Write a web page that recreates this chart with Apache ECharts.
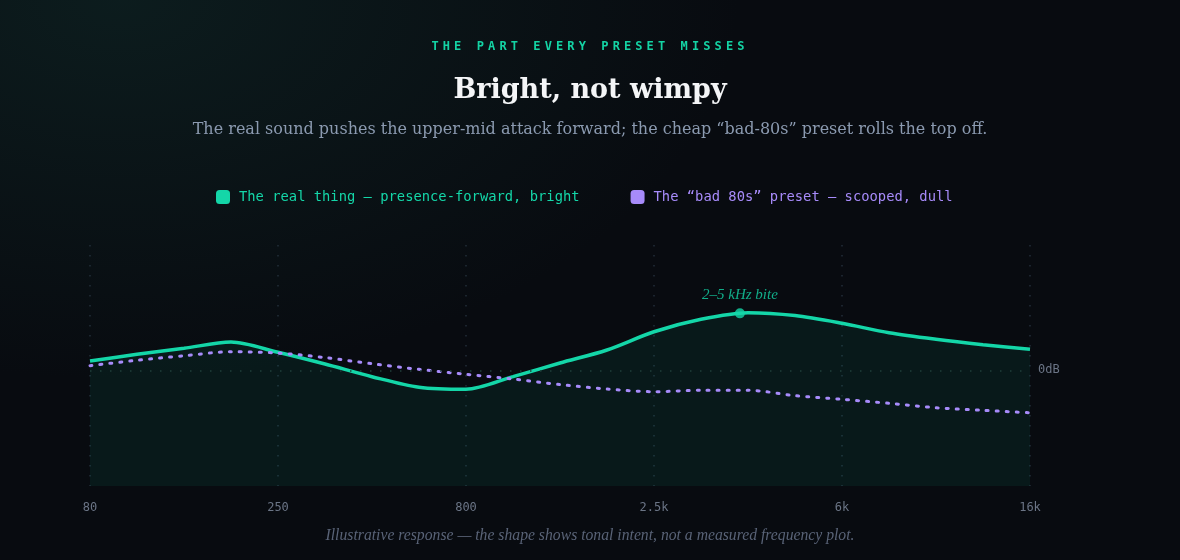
<!DOCTYPE html>
<html><head><meta charset="utf-8">
<script src="https://cdn.jsdelivr.net/npm/echarts@6/dist/echarts.min.js"></script>
<style>
html,body{margin:0;padding:0;width:1180px;height:560px;overflow:hidden;
background:#080b10;
background-image:radial-gradient(ellipse 620px 380px at 120px 0px, rgba(20,60,55,0.35), rgba(8,11,16,0) 100%);}
#eyebrow{position:absolute;left:0;top:39px;width:1180px;text-align:center;font-family:"DejaVu Sans Mono",monospace;font-size:12px;letter-spacing:4.1px;color:#14d3a4;font-weight:bold;}
#chart{position:absolute;left:0;top:0;width:1180px;height:560px;}
</style></head>
<body>
<div id="chart"></div>
<div id="eyebrow">THE PART EVERY PRESET MISSES</div>
<script>
const tickLabels = ['80','250','800','2.5k','6k','16k'];
// positions along the (log-spaced) frequency axis, in tick-index units
const positions = [0, 0.25, 0.5, 0.75, 1, 1.25, 1.5, 1.75, 2, 2.25, 2.5, 2.75, 3, 3.25, 3.5, 3.75, 4, 4.25, 4.5, 4.75, 5];
const realDb = [0.96, 1.66, 2.28, 2.94, 1.87, 0.65, -0.66, -1.75, -1.96, -0.65, 0.76, 2.11, 4.0, 5.29, 5.98, 5.68, 4.88, 3.9, 3.22, 2.66, 2.18];
const badDb  = [0.48, 1.04, 1.51, 1.93, 1.79, 1.32, 0.68, 0.10, -0.41, -0.90, -1.48, -1.94, -2.22, -2.07, -2.07, -2.63, -3.01, -3.42, -3.88, -4.15, -4.40];
const peakPos = 3.457, peakDb = 5.91, peakLabel = '2–5 kHz bite';

const GREEN = '#14d6a8', PURPLE = '#a78bfa';
const realName = 'The real thing — presence-forward, bright';
const badName = 'The “bad 80s” preset — scooped, dull';

const chart = echarts.init(document.getElementById('chart'), null, {renderer:'canvas'});
chart.setOption({
  backgroundColor: 'transparent',
  animation: false,
  title: [
    {text:'Bright, not wimpy', left:'center', top:72,
     textStyle:{fontFamily:'DejaVu Serif', fontWeight:'bold', fontSize:27, color:'#f4f5f7'}},
    {text:'The real sound pushes the upper-mid attack forward; the cheap “bad-80s” preset rolls the top off.', left:'center', top:117,
     textStyle:{fontFamily:'DejaVu Serif', fontWeight:'normal', fontSize:16, color:'#8b9ab0'}},
    {text:'Illustrative response — the shape shows tonal intent, not a measured frequency plot.', left:'center', top:523,
     textStyle:{fontFamily:'Liberation Serif', fontStyle:'italic', fontWeight:'normal', fontSize:15.7, color:'#596377'}}
  ],
  legend: {
    top: 185, left: 211, itemGap: 51, itemWidth: 14, itemHeight: 14, icon: 'roundRect',
    textStyle: {fontFamily:'DejaVu Sans Mono', fontSize:13.8, padding:[0,0,0,4]},
    data: [
      {name: realName, itemStyle:{color:GREEN}, textStyle:{color:GREEN}},
      {name: badName, itemStyle:{color:PURPLE}, textStyle:{color:PURPLE}}
    ],
    selectedMode: false
  },
  grid: {left: 90, right: 150, top: 245, bottom: 74},
  xAxis: {
    type:'value', min:0, max:tickLabels.length-1, interval:1,
    axisLine:{show:false}, axisTick:{show:false},
    axisLabel:{formatter:v=>tickLabels[v]||'', color:'#6b7586', fontFamily:'DejaVu Sans Mono', fontSize:12, margin:16},
    splitLine:{show:true, lineStyle:{color:'#222e38', type:[1.5,8.5], width:1.5}}
  },
  yAxis: {
    type:'value', min:-12, max:13,
    axisLine:{show:false}, axisTick:{show:false}, axisLabel:{show:false}, splitLine:{show:false}
  },
  series: [
    {
      name: realName, type:'line', smooth:0.3, showSymbol:false, symbol:'none',
      data: positions.map((p,i)=>[p, realDb[i]]),
      lineStyle:{color:GREEN, width:3.5},
      itemStyle:{color:GREEN},
      areaStyle:{color:'rgba(20,214,168,0.10)', origin:'start'},
      z: 3,
      markLine: {
        silent:true, symbol:'none',
        data:[{yAxis:0}],
        lineStyle:{color:'#21403b', type:[1.5,8.5], width:1.5},
        label:{show:true, position:'end', formatter:'0dB', color:'#6b7586', fontFamily:'DejaVu Sans Mono', fontSize:12, distance:8}
      }
    },
    {
      name: badName, type:'line', smooth:0.3, showSymbol:false, symbol:'none',
      data: positions.map((p,i)=>[p, badDb[i]]),
      lineStyle:{color:PURPLE, width:3, type:[2,8], cap:'round'},
      itemStyle:{color:PURPLE},
      z: 4
    },
    {
      name: 'peak', type:'scatter', symbolSize:10,
      data: [[peakPos, peakDb]],
      itemStyle:{color:GREEN},
      label:{show:true, position:'top', distance:6, formatter:peakLabel, color:GREEN,
        fontFamily:'Liberation Serif', fontStyle:'italic', fontSize:15},
      z: 5
    }
  ]
});
</script>
</body></html>
